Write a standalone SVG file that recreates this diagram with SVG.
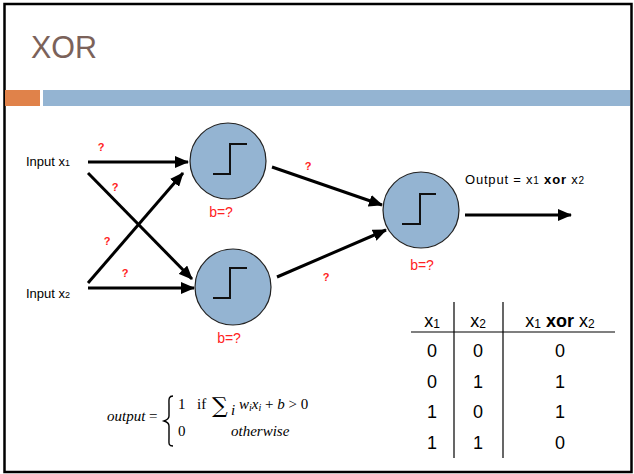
<svg xmlns="http://www.w3.org/2000/svg" width="634" height="474" viewBox="0 0 634 474">
<defs>
<marker id="ah" viewBox="0 0 14 12" refX="13" refY="6" markerWidth="14" markerHeight="12" markerUnits="userSpaceOnUse" orient="auto">
<path d="M0,0 L14,6 L0,12 z" fill="#000"/>
</marker>
<style>
.lbl{font-family:"Liberation Sans",Arial,sans-serif;font-size:13px;fill:#000}
.red{font-family:"Liberation Sans",Arial,sans-serif;font-size:14px;fill:#ff2222;text-anchor:middle}
.q{font-family:"Liberation Sans",Arial,sans-serif;font-size:11px;font-weight:bold;fill:#ff2222;text-anchor:middle}
.node{fill:#94b4d2;stroke:#222;stroke-width:1.2}
.step{fill:none;stroke:#111;stroke-width:2}
.conn line{stroke:#000;stroke-width:3;marker-end:url(#ah)}
.tb{font-family:"Liberation Sans",Arial,sans-serif;font-size:18px;fill:#000;text-anchor:middle}
.tl{stroke:#000;stroke-width:1.2}
.m{font-family:"Liberation Serif","Times New Roman",serif;font-size:15px;fill:#000}
</style>
</defs>
<rect x="0" y="0" width="634" height="474" fill="#fff"/>
<rect x="4.5" y="4" width="627" height="468" fill="none" stroke="#000" stroke-width="2.5"/>
<text x="31" y="58" font-family="'Liberation Sans',Arial,sans-serif" font-size="31" fill="#7b625a" textLength="66" lengthAdjust="spacingAndGlyphs">XOR</text>
<rect x="5" y="90" width="35" height="16" fill="#e0824a"/>
<rect x="43" y="90" width="587" height="16" fill="#94b4d2"/>

<g id="input1"><text class="lbl" x="26" y="166">Input x<tspan font-size="9">1</tspan></text></g>
<g id="input2"><text class="lbl" x="26" y="298">Input x<tspan font-size="9">2</tspan></text></g>

<g class="conn" id="connectors">
<line x1="88" y1="162" x2="188" y2="162"/>
<line x1="88" y1="173" x2="192" y2="279"/>
<line x1="88" y1="283" x2="183" y2="173"/>
<line x1="88" y1="288" x2="194" y2="288"/>
<line x1="272" y1="167" x2="382" y2="205"/>
<line x1="277" y1="277" x2="386" y2="230"/>
<line x1="465" y1="215" x2="571" y2="215"/>
</g>

<g id="weights">
<text class="q" x="101" y="151">?</text>
<text class="q" x="115" y="191">?</text>
<text class="q" x="107" y="245">?</text>
<text class="q" x="125" y="277">?</text>
<text class="q" x="308" y="170">?</text>
<text class="q" x="326" y="281">?</text>
</g>

<g id="hidden1">
<circle class="node" cx="228" cy="161" r="38"/>
<path class="step" d="M213,174 H230 V144 H247"/>
<text class="red" x="221" y="217">b=?</text>
</g>
<g id="hidden2">
<circle class="node" cx="233" cy="287" r="38"/>
<path class="step" d="M213,298 H230 V268 H247"/>
<text class="red" x="229" y="343">b=?</text>
</g>
<g id="output">
<circle class="node" cx="421" cy="210" r="38"/>
<path class="step" d="M402,224 H420 V194 H436"/>
<text class="red" x="422" y="270">b=?</text>
<text class="lbl" x="465" y="184" textLength="119">Output = x<tspan font-size="10">1</tspan> <tspan font-weight="bold">xor</tspan> x<tspan font-size="10">2</tspan></text>
</g>

<g id="truth-table">
<line class="tl" x1="454" y1="302" x2="454" y2="458"/>
<line class="tl" x1="503" y1="302" x2="503" y2="458"/>
<line class="tl" x1="411" y1="332" x2="615" y2="332"/>
<text class="tb" x="432" y="327">x<tspan font-size="12" dy="1">1</tspan></text>
<text class="tb" x="478" y="327">x<tspan font-size="12" dy="1">2</tspan></text>
<text class="tb" x="560" y="327">x<tspan font-size="12" dy="1">1</tspan><tspan dy="-1"> </tspan><tspan font-weight="bold">xor</tspan> x<tspan font-size="12" dy="1">2</tspan></text>
<text class="tb" x="432" y="357">0</text><text class="tb" x="478" y="357">0</text><text class="tb" x="560" y="357">0</text>
<text class="tb" x="432" y="388">0</text><text class="tb" x="478" y="388">1</text><text class="tb" x="560" y="388">1</text>
<text class="tb" x="432" y="418">1</text><text class="tb" x="478" y="418">0</text><text class="tb" x="560" y="418">1</text>
<text class="tb" x="432" y="449">1</text><text class="tb" x="478" y="449">1</text><text class="tb" x="560" y="449">0</text>
</g>

<g id="formula">
<text class="m" x="107" y="421"><tspan font-style="italic">output</tspan> =</text>
<path d="M173,396 C168,396 169,400 169,405 L169,416 C169,419 167,420 164,421 C167,422 169,423 169,426 L169,438 C169,443 168,446 173,446" fill="none" stroke="#000" stroke-width="1.4"/>
<text class="m" x="178" y="409">1</text>
<text class="m" x="197" y="409">if</text>
<text x="212" y="413" font-family="'DejaVu Serif',serif" font-size="22" fill="#000">∑</text>
<text class="m" x="231" y="415" font-size="10" font-style="italic">i</text>
<text class="m" x="239" y="409"><tspan font-style="italic">w</tspan><tspan font-size="10" font-style="italic" dy="2">i</tspan><tspan font-style="italic" dy="-2">x</tspan><tspan font-size="10" font-style="italic" dy="2">i</tspan><tspan dy="-2"> + </tspan><tspan font-style="italic">b</tspan> &gt; 0</text>
<text class="m" x="178" y="436">0</text>
<text class="m" x="231" y="436" font-style="italic">otherwise</text>
</g>
</svg>
